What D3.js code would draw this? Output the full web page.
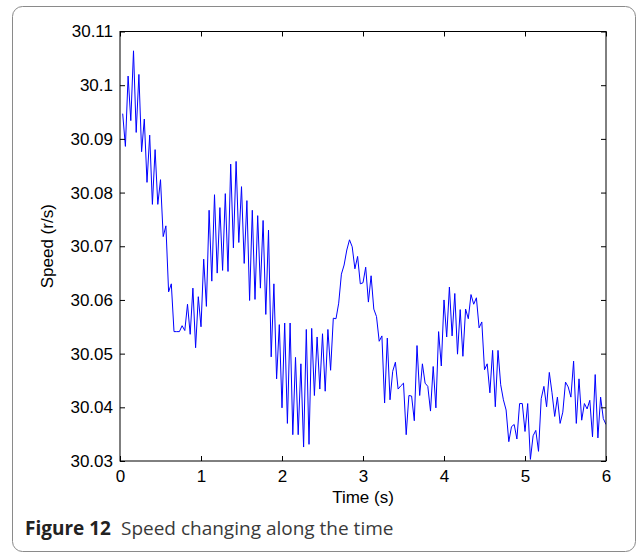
<!DOCTYPE html>
<html>
<head>
<meta charset="utf-8">
<script src="https://cdn.jsdelivr.net/npm/d3@7"></script>
<style>
  body { margin: 0; background: #fff; }
</style>
</head>
<body>
<div id="chart"></div>
<script>
// speed samples (r/s), one every 1/30 s starting at t = 1/30
var speed = [
  30.0947, 30.0886, 30.1017, 30.0934, 30.1064, 30.0912, 30.1020, 30.0876, 30.0937, 30.0819,
  30.0907, 30.0778, 30.0880, 30.0778, 30.0824, 30.0718, 30.0738, 30.0615, 30.0630, 30.0541,
  30.0541, 30.0541, 30.0552, 30.0543, 30.0592, 30.0536, 30.0622, 30.0511, 30.0606, 30.0550,
  30.0676, 30.0588, 30.0767, 30.0635, 30.0796, 30.0650, 30.0772, 30.0655, 30.0798, 30.0653,
  30.0853, 30.0697, 30.0858, 30.0707, 30.0811, 30.0668, 30.0785, 30.0599, 30.0767, 30.0601,
  30.0757, 30.0622, 30.0748, 30.0573, 30.0730, 30.0494, 30.0630, 30.0453, 30.0554, 30.0399,
  30.0557, 30.0370, 30.0557, 30.0349, 30.0493, 30.0349, 30.0481, 30.0326, 30.0545, 30.0331,
  30.0547, 30.0422, 30.0531, 30.0434, 30.0537, 30.0430, 30.0545, 30.0469, 30.0566, 30.0565,
  30.0594, 30.0648, 30.0665, 30.0693, 30.0712, 30.0699, 30.0658, 30.0681, 30.0630, 30.0632,
  30.0661, 30.0596, 30.0645, 30.0583, 30.0569, 30.0523, 30.0533, 30.0408, 30.0529, 30.0414,
  30.0467, 30.0484, 30.0434, 30.0440, 30.0445, 30.0349, 30.0422, 30.0421, 30.0375, 30.0515,
  30.0422, 30.0481, 30.0445, 30.0439, 30.0393, 30.0476, 30.0399, 30.0541, 30.0477, 30.0600,
  30.0531, 30.0624, 30.0533, 30.0612, 30.0499, 30.0582, 30.0495, 30.0583, 30.0565, 30.0610,
  30.0592, 30.0604, 30.0548, 30.0559, 30.0470, 30.0481, 30.0427, 30.0506, 30.0401, 30.0506,
  30.0442, 30.0414, 30.0395, 30.0336, 30.0364, 30.0368, 30.0341, 30.0407, 30.0407, 30.0355,
  30.0407, 30.0303, 30.0347, 30.0357, 30.0318, 30.0416, 30.0439, 30.0401, 30.0465, 30.0427,
  30.0383, 30.0419, 30.0370, 30.0391, 30.0447, 30.0438, 30.0419, 30.0486, 30.0370, 30.0453,
  30.0376, 30.0407, 30.0397, 30.0413, 30.0345, 30.0461, 30.0343, 30.0419, 30.0379, 30.0368
];
var sampleStep = 1 / 30;

var xTicks = [0, 1, 2, 3, 4, 5, 6];
var yTicks = [30.03, 30.04, 30.05, 30.06, 30.07, 30.08, 30.09, 30.1, 30.11];
var yTickLabels = ["30.03", "30.04", "30.05", "30.06", "30.07", "30.08", "30.09", "30.1", "30.11"];

var width = 637, height = 554;
var plotLeft = 120, plotRight = 606, plotTop = 31.5, plotBottom = 461;

var svg = d3.select("#chart").append("svg")
    .attr("width", width)
    .attr("height", height);

// figure frame
svg.append("rect")
    .attr("x", 12.5).attr("y", 6.5)
    .attr("width", 623).attr("height", 545)
    .attr("rx", 10).attr("ry", 10)
    .attr("fill", "none")
    .attr("stroke", "#8a8a8a")
    .attr("stroke-width", 1);

var x = d3.scaleLinear().domain([0, 6]).range([plotLeft, plotRight]);
var y = d3.scaleLinear().domain([30.03, 30.11]).range([plotBottom, plotTop]);

svg.append("clipPath").attr("id", "plotClip")
  .append("rect")
    .attr("x", plotLeft).attr("y", plotTop)
    .attr("width", plotRight - plotLeft).attr("height", plotBottom - plotTop);

var line = d3.line()
    .x(function(d, i) { return x((i + 1) * sampleStep); })
    .y(function(d) { return y(d); });

svg.append("path")
    .datum(speed)
    .attr("clip-path", "url(#plotClip)")
    .attr("fill", "none")
    .attr("stroke", "#0000ff")
    .attr("stroke-width", 1)
    .attr("d", line);

var tickFont = "'Liberation Sans', Arial, sans-serif";
var tickSize = "17px";

// axes with inward ticks (MATLAB style box)
var gx = svg.append("g")
    .attr("transform", "translate(0," + plotBottom + ")")
    .call(d3.axisBottom(x).tickValues(xTicks).tickSize(-5).tickSizeOuter(0).tickPadding(9)
        .tickFormat(d3.format("d")));
var gxTop = svg.append("g")
    .attr("transform", "translate(0," + plotTop + ")")
    .call(d3.axisTop(x).tickValues(xTicks).tickSize(-5).tickSizeOuter(0).tickFormat(""));
var gy = svg.append("g")
    .attr("transform", "translate(" + plotLeft + ",0)")
    .call(d3.axisLeft(y).tickValues(yTicks).tickSize(-5).tickSizeOuter(0).tickPadding(7)
        .tickFormat(function(d, i) { return yTickLabels[i]; }));
var gyRight = svg.append("g")
    .attr("transform", "translate(" + plotRight + ",0)")
    .call(d3.axisRight(y).tickValues(yTicks).tickSize(-5).tickSizeOuter(0).tickFormat(""));

[gx, gxTop, gy, gyRight].forEach(function(g) {
    g.select(".domain").remove();
    g.selectAll(".tick line").attr("stroke", "#000");
    g.selectAll("text")
        .attr("fill", "#000")
        .style("font-family", tickFont)
        .style("font-size", tickSize);
});

svg.append("rect")
    .attr("x", plotLeft).attr("y", plotTop)
    .attr("width", plotRight - plotLeft).attr("height", plotBottom - plotTop)
    .attr("fill", "none")
    .attr("stroke", "#000")
    .attr("stroke-width", 1);

svg.append("text")
    .attr("x", (plotLeft + plotRight) / 2).attr("y", 503)
    .attr("text-anchor", "middle")
    .style("font-family", tickFont)
    .style("font-size", tickSize)
    .text("Time (s)");

svg.append("text")
    .attr("transform", "translate(53," + ((plotTop + plotBottom) / 2) + ") rotate(-90)")
    .attr("text-anchor", "middle")
    .style("font-family", tickFont)
    .style("font-size", tickSize)
    .text("Speed (r/s)");

// caption
var cap = svg.append("text")
    .attr("x", 25).attr("y", 535)
    .style("font-family", "'Open Sans', 'Noto Sans', sans-serif")
    .style("font-size", "19px")
    .attr("fill", "#222");
cap.append("tspan").style("font-weight", "bold").text("Figure 12");
cap.append("tspan").attr("dx", 10).attr("fill", "#3a3a3a").text("Speed changing along the time");
</script>
</body>
</html>
